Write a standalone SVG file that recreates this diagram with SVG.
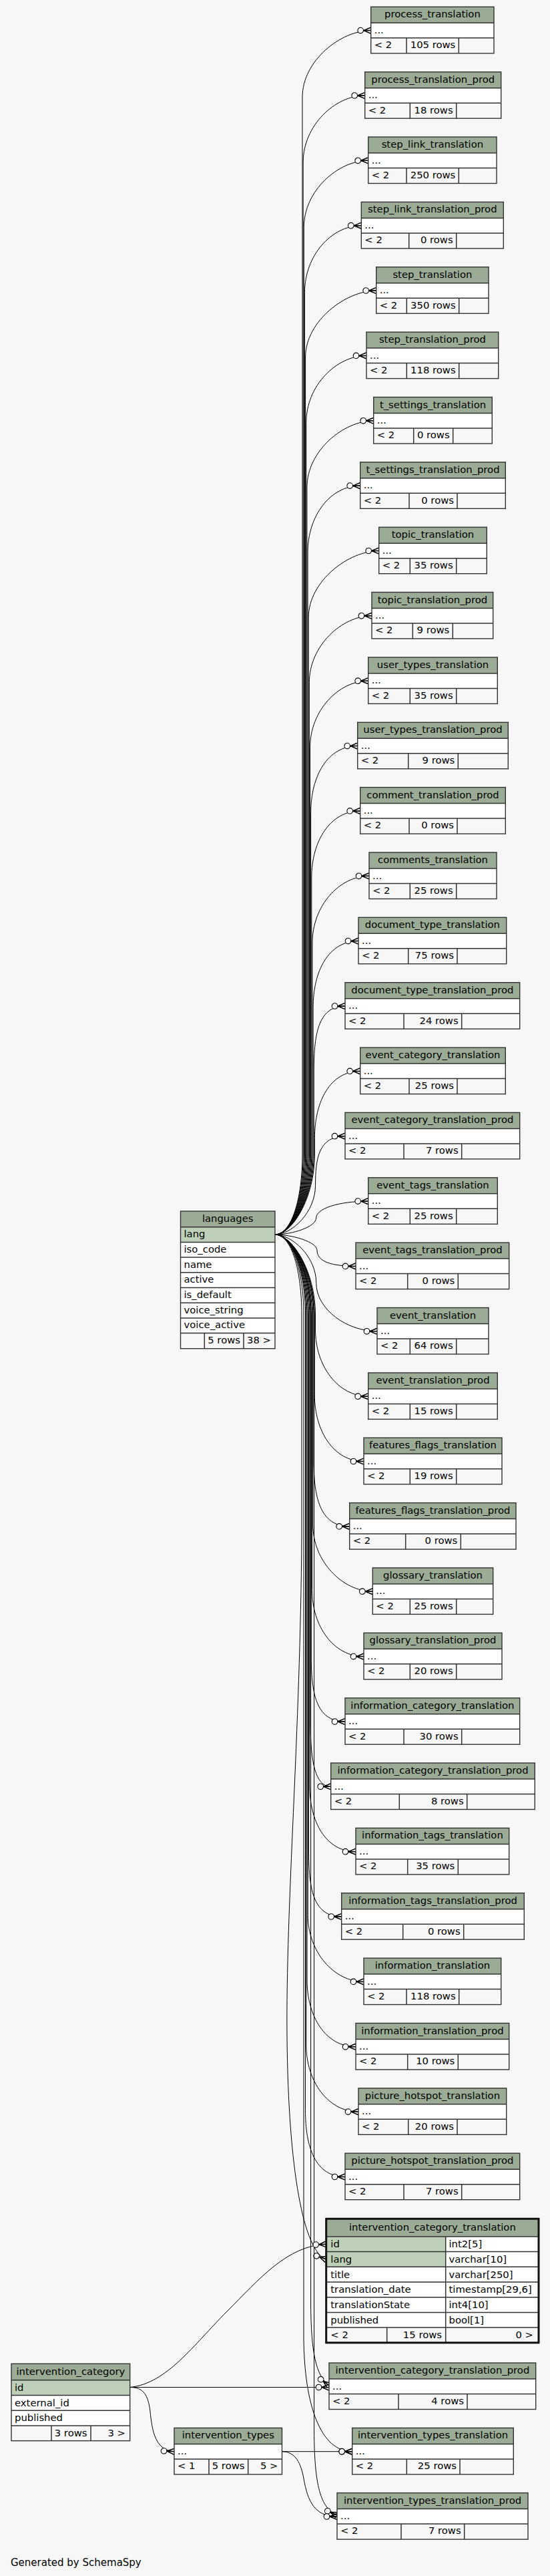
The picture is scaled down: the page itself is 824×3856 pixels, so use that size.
<svg xmlns="http://www.w3.org/2000/svg" width="824" height="3856" viewBox="0 0 824 3856">
<defs>
<style>
.hd{fill:#9bab96}
.wh{fill:#fff}
.pk{fill:#bed1b8}
.ln{stroke:#333;stroke-width:1.5;fill:none}
.ol{fill:none;stroke:#333;stroke-width:1.4}
.olb{fill:none;stroke:#111;stroke-width:3}
text{font-family:"DejaVu Sans","Liberation Sans",sans-serif;font-size:14.8px;fill:#000}
.c{text-anchor:middle}
.r{text-anchor:end}
.e{fill:none;stroke:#000;stroke-width:1;marker-end:url(#cf)}
</style>
<marker id="cf" viewBox="-22 -7 23 14" markerWidth="23" markerHeight="14" refX="0" refY="0" orient="auto" markerUnits="userSpaceOnUse">
<path d="M-11,0L0,-4.6M-11,0L0,0M-11,0L0,4.6" fill="none" stroke="#000" stroke-width="1.5"/>
<circle cx="-15.5" cy="0" r="4.3" fill="#fff" stroke="#000" stroke-width="1.1"/>
</marker>
</defs>
<rect x="0" y="0" width="824" height="3856" fill="#f7f7f7"/>

<g id="connectors">
<path class="e" d="M412,1848C437,1848 453,1794 453,1728L453,145.6C453,90.6 510.7,45.6 555.7,45.6"/>
<path class="e" d="M412,1848C437,1848 454.15,1794 454.15,1728L454.15,243C454.15,188 501.7,143 546.7,143"/>
<path class="e" d="M412,1848C437,1848 455.3,1794 455.3,1728L455.3,340.3C455.3,285.3 506.7,240.3 551.7,240.3"/>
<path class="e" d="M412,1848C437,1848 456.45,1794 456.45,1728L456.45,437.7C456.45,382.7 496.3,337.7 541.3,337.7"/>
<path class="e" d="M412,1848C437,1848 457.6,1794 457.6,1728L457.6,535C457.6,480 518.7,435 563.7,435"/>
<path class="e" d="M412,1848C437,1848 458.75,1794 458.75,1728L458.75,632.4C458.75,577.4 504,532.4 549,532.4"/>
<path class="e" d="M412,1848C437,1848 459.9,1794 459.9,1728L459.9,729.8C459.9,674.8 514.7,629.8 559.7,629.8"/>
<path class="e" d="M412,1848C437,1848 461.05,1794 461.05,1728L461.05,827.1C461.05,772.1 494.7,727.1 539.7,727.1"/>
<path class="e" d="M412,1848C437,1848 462.2,1794 462.2,1728L462.2,924.5C462.2,869.5 522.7,824.5 567.7,824.5"/>
<path class="e" d="M412,1848C437,1848 463.35,1794 463.35,1728L463.35,1021.8C463.35,966.8 512,921.8 557,921.8"/>
<path class="e" d="M412,1848C437,1848 464.5,1794 464.5,1728L464.5,1119.2C464.5,1064.2 506.7,1019.2 551.7,1019.2"/>
<path class="e" d="M412,1848C437,1848 465.65,1794 465.65,1728L465.65,1216.6C465.65,1161.6 490.7,1116.6 535.7,1116.6"/>
<path class="e" d="M412,1848C437,1848 466.8,1794 466.8,1728L466.8,1313.9C466.8,1258.9 494.7,1213.9 539.7,1213.9"/>
<path class="e" d="M412,1848C437,1848 467.95,1794 467.95,1728L467.95,1411.3C467.95,1356.3 508,1311.3 553,1311.3"/>
<path class="e" d="M412,1848C437,1848 469.1,1794 469.1,1728L469.1,1508.6C469.1,1453.6 492,1408.6 537,1408.6"/>
<path class="e" d="M412,1848C437,1848 470.25,1794 470.25,1728L470.25,1606C470.25,1551 475.3,1506 517,1506"/>
<path class="e" d="M412,1848C437,1848 471.4,1794 471.4,1728L471.4,1703.4C471.4,1648.4 494.7,1603.4 539.7,1603.4"/>
<path class="e" d="M412,1848C437,1848 472.55,1814.9 472.55,1774.4C472.55,1733.8 477.6,1700.7 517,1700.7"/>
<path class="e" d="M412,1848C437,1848 473.7,1836.8 473.7,1823C473.7,1809.3 506.7,1798.1 551.7,1798.1"/>
<path class="e" d="M412,1848C437,1848 475,1858.7 475,1871.7C475,1884.7 488,1895.4 533,1895.4"/>
<path class="e" d="M412,1848C437,1848 473.75,1880.6 473.75,1920.4C473.75,1960.2 520,1992.8 565,1992.8"/>
<path class="e" d="M412,1848C437,1848 472.5,1902 472.5,1968L472.5,1990.2C472.5,2045.2 506.7,2090.2 551.7,2090.2"/>
<path class="e" d="M412,1848C437,1848 471.25,1902 471.25,1968L471.25,2087.5C471.25,2142.5 500,2187.5 545,2187.5"/>
<path class="e" d="M412,1848C437,1848 470,1902 470,1968L470,2184.9C470,2239.9 478.7,2284.9 523.7,2284.9"/>
<path class="e" d="M412,1848C437,1848 468.75,1902 468.75,1968L468.75,2282.2C468.75,2337.2 513.3,2382.2 558.3,2382.2"/>
<path class="e" d="M412,1848C437,1848 467.5,1902 467.5,1968L467.5,2379.6C467.5,2434.6 500,2479.6 545,2479.6"/>
<path class="e" d="M412,1848C437,1848 466.25,1902 466.25,1968L466.25,2477C466.25,2532 472,2577 517,2577"/>
<path class="e" d="M412,1848C437,1848 465,1902 465,1968L465,2574.3C465,2629.3 470,2674.3 495.7,2674.3"/>
<path class="e" d="M412,1848C437,1848 463.75,1902 463.75,1968L463.75,2671.7C463.75,2726.7 488,2771.7 533,2771.7"/>
<path class="e" d="M412,1848C437,1848 462.5,1902 462.5,1968L462.5,2769C462.5,2824 467.5,2869 511.7,2869"/>
<path class="e" d="M412,1848C437,1848 461.25,1902 461.25,1968L461.25,2866.4C461.25,2921.4 500,2966.4 545,2966.4"/>
<path class="e" d="M412,1848C437,1848 460,1902 460,1968L460,2963.8C460,3018.8 488,3063.8 533,3063.8"/>
<path class="e" d="M412,1848C437,1848 458.75,1902 458.75,1968L458.75,3061.1C458.75,3116.1 492,3161.1 537,3161.1"/>
<path class="e" d="M412,1848C437,1848 457.5,1902 457.5,1968L457.5,3158.5C457.5,3213.5 472,3258.5 517,3258.5"/>
<path class="e" d="M412,1848C437,1848 452,1902 452,1968L452,2300C450,2600 428,2850 430,3050C432,3250 455,3370 488.7,3382"/>
<path class="e" d="M412,1848C437,1848 465.6,1902 465.6,1968L465.6,3450C466,3520 473,3556 493,3571"/>
<path class="e" d="M412,1848C437,1848 455,1902 455,1968L455,3500C456,3600 480,3669.7 527.7,3669.7"/>
<path class="e" d="M412,1848C437,1848 470.6,1902 470.6,1968L470.6,3640C471,3720 480,3754 505,3765"/>
<path class="e" d="M194.7,3573.5C250,3568 290,3510 340,3460C390,3410 430,3362 488.7,3359.3"/>
<path class="e" d="M194.7,3573.5L493,3573.5"/>
<path class="e" d="M194.7,3573.5C215,3573.5 222,3585 225,3610C228,3640 233,3668 261,3669.7"/>
<path class="e" d="M422.5,3669.7L527.7,3669.7"/>
<path class="e" d="M422.5,3669.7C443,3669.7 451,3688 455,3710C461,3745 472,3767 505,3767"/>
</g>

<g id="process_translation"><rect class="hd" x="555.7" y="10.3" width="184.3" height="24"/><rect class="wh" x="555.7" y="34.3" width="184.3" height="22.5"/><path class="ln" d="M555.7,34.3H740M555.7,56.8H740M609,56.8V79.8M687.3,56.8V79.8"/><rect class="ol" x="555.7" y="10.3" width="184.3" height="69.5"/><text class="c" x="647.9" y="26.3">process_translation</text><text x="560.7" y="49.8">...</text><text x="560.7" y="72.1">&lt; 2</text><text class="r" x="682.3" y="72.1">105 rows</text></g>
<g id="process_translation_prod"><rect class="hd" x="546.7" y="107.7" width="204" height="24"/><rect class="wh" x="546.7" y="131.7" width="204" height="22.5"/><path class="ln" d="M546.7,131.7H750.7M546.7,154.2H750.7M614.3,154.2V177.2M683.7,154.2V177.2"/><rect class="ol" x="546.7" y="107.7" width="204" height="69.5"/><text class="c" x="648.7" y="123.7">process_translation_prod</text><text x="551.7" y="147.2">...</text><text x="551.7" y="169.5">&lt; 2</text><text class="r" x="678.7" y="169.5">18 rows</text></g>
<g id="step_link_translation"><rect class="hd" x="551.7" y="205" width="192.3" height="24"/><rect class="wh" x="551.7" y="229" width="192.3" height="22.5"/><path class="ln" d="M551.7,229H744M551.7,251.5H744M609,251.5V274.5M687.3,251.5V274.5"/><rect class="ol" x="551.7" y="205" width="192.3" height="69.5"/><text class="c" x="647.9" y="221">step_link_translation</text><text x="556.7" y="244.5">...</text><text x="556.7" y="266.8">&lt; 2</text><text class="r" x="682.3" y="266.8">250 rows</text></g>
<g id="step_link_translation_prod"><rect class="hd" x="541.3" y="302.4" width="213" height="24"/><rect class="wh" x="541.3" y="326.4" width="213" height="22.5"/><path class="ln" d="M541.3,326.4H754.3M541.3,348.9H754.3M612.7,348.9V371.9M683.7,348.9V371.9"/><rect class="ol" x="541.3" y="302.4" width="213" height="69.5"/><text class="c" x="647.8" y="318.4">step_link_translation_prod</text><text x="546.3" y="341.9">...</text><text x="546.3" y="364.2">&lt; 2</text><text class="r" x="678.7" y="364.2">0 rows</text></g>
<g id="step_translation"><rect class="hd" x="563.7" y="399.7" width="168.3" height="24"/><rect class="wh" x="563.7" y="423.7" width="168.3" height="22.5"/><path class="ln" d="M563.7,423.7H732M563.7,446.2H732M609.3,446.2V469.2M687.7,446.2V469.2"/><rect class="ol" x="563.7" y="399.7" width="168.3" height="69.5"/><text class="c" x="647.9" y="415.7">step_translation</text><text x="568.7" y="439.2">...</text><text x="568.7" y="461.5">&lt; 2</text><text class="r" x="682.7" y="461.5">350 rows</text></g>
<g id="step_translation_prod"><rect class="hd" x="549" y="497.1" width="197.7" height="24"/><rect class="wh" x="549" y="521.1" width="197.7" height="22.5"/><path class="ln" d="M549,521.1H746.7M549,543.6H746.7M609.3,543.6V566.6M687.7,543.6V566.6"/><rect class="ol" x="549" y="497.1" width="197.7" height="69.5"/><text class="c" x="647.9" y="513.1">step_translation_prod</text><text x="554" y="536.6">...</text><text x="554" y="558.9">&lt; 2</text><text class="r" x="682.7" y="558.9">118 rows</text></g>
<g id="t_settings_translation"><rect class="hd" x="559.7" y="594.5" width="177.6" height="24"/><rect class="wh" x="559.7" y="618.5" width="177.6" height="22.5"/><path class="ln" d="M559.7,618.5H737.3M559.7,641H737.3M619.7,641V664M678.7,641V664"/><rect class="ol" x="559.7" y="594.5" width="177.6" height="69.5"/><text class="c" x="648.5" y="610.5">t_settings_translation</text><text x="564.7" y="634">...</text><text x="564.7" y="656.3">&lt; 2</text><text class="r" x="673.7" y="656.3">0 rows</text></g>
<g id="t_settings_translation_prod"><rect class="hd" x="539.7" y="691.8" width="217.6" height="24"/><rect class="wh" x="539.7" y="715.8" width="217.6" height="22.5"/><path class="ln" d="M539.7,715.8H757.3M539.7,738.3H757.3M613,738.3V761.3M685,738.3V761.3"/><rect class="ol" x="539.7" y="691.8" width="217.6" height="69.5"/><text class="c" x="648.5" y="707.8">t_settings_translation_prod</text><text x="544.7" y="731.3">...</text><text x="544.7" y="753.6">&lt; 2</text><text class="r" x="680" y="753.6">0 rows</text></g>
<g id="topic_translation"><rect class="hd" x="567.7" y="789.2" width="161.6" height="24"/><rect class="wh" x="567.7" y="813.2" width="161.6" height="22.5"/><path class="ln" d="M567.7,813.2H729.3M567.7,835.7H729.3M614.3,835.7V858.7M683.7,835.7V858.7"/><rect class="ol" x="567.7" y="789.2" width="161.6" height="69.5"/><text class="c" x="648.5" y="805.2">topic_translation</text><text x="572.7" y="828.7">...</text><text x="572.7" y="851">&lt; 2</text><text class="r" x="678.7" y="851">35 rows</text></g>
<g id="topic_translation_prod"><rect class="hd" x="557" y="886.5" width="181.7" height="24"/><rect class="wh" x="557" y="910.5" width="181.7" height="22.5"/><path class="ln" d="M557,910.5H738.7M557,933H738.7M618.3,933V956M678.3,933V956"/><rect class="ol" x="557" y="886.5" width="181.7" height="69.5"/><text class="c" x="647.9" y="902.5">topic_translation_prod</text><text x="562" y="926">...</text><text x="562" y="948.3">&lt; 2</text><text class="r" x="673.3" y="948.3">9 rows</text></g>
<g id="user_types_translation"><rect class="hd" x="551.7" y="983.9" width="193.6" height="24"/><rect class="wh" x="551.7" y="1007.9" width="193.6" height="22.5"/><path class="ln" d="M551.7,1007.9H745.3M551.7,1030.4H745.3M614.3,1030.4V1053.4M683.7,1030.4V1053.4"/><rect class="ol" x="551.7" y="983.9" width="193.6" height="69.5"/><text class="c" x="648.5" y="999.9">user_types_translation</text><text x="556.7" y="1023.4">...</text><text x="556.7" y="1045.7">&lt; 2</text><text class="r" x="678.7" y="1045.7">35 rows</text></g>
<g id="user_types_translation_prod"><rect class="hd" x="535.7" y="1081.3" width="225.6" height="24"/><rect class="wh" x="535.7" y="1105.3" width="225.6" height="22.5"/><path class="ln" d="M535.7,1105.3H761.3M535.7,1127.8H761.3M611.7,1127.8V1150.8M686.3,1127.8V1150.8"/><rect class="ol" x="535.7" y="1081.3" width="225.6" height="69.5"/><text class="c" x="648.5" y="1097.3">user_types_translation_prod</text><text x="540.7" y="1120.8">...</text><text x="540.7" y="1143.1">&lt; 2</text><text class="r" x="681.3" y="1143.1">9 rows</text></g>
<g id="comment_translation_prod"><rect class="hd" x="539.7" y="1178.6" width="217.6" height="24"/><rect class="wh" x="539.7" y="1202.6" width="217.6" height="22.5"/><path class="ln" d="M539.7,1202.6H757.3M539.7,1225.1H757.3M613,1225.1V1248.1M685,1225.1V1248.1"/><rect class="ol" x="539.7" y="1178.6" width="217.6" height="69.5"/><text class="c" x="648.5" y="1194.6">comment_translation_prod</text><text x="544.7" y="1218.1">...</text><text x="544.7" y="1240.4">&lt; 2</text><text class="r" x="680" y="1240.4">0 rows</text></g>
<g id="comments_translation"><rect class="hd" x="553" y="1276" width="191" height="24"/><rect class="wh" x="553" y="1300" width="191" height="22.5"/><path class="ln" d="M553,1300H744M553,1322.5H744M614.3,1322.5V1345.5M683.7,1322.5V1345.5"/><rect class="ol" x="553" y="1276" width="191" height="69.5"/><text class="c" x="648.5" y="1292">comments_translation</text><text x="558" y="1315.5">...</text><text x="558" y="1337.8">&lt; 2</text><text class="r" x="678.7" y="1337.8">25 rows</text></g>
<g id="document_type_translation"><rect class="hd" x="537" y="1373.3" width="221.7" height="24"/><rect class="wh" x="537" y="1397.3" width="221.7" height="22.5"/><path class="ln" d="M537,1397.3H758.7M537,1419.8H758.7M611.7,1419.8V1442.8M685,1419.8V1442.8"/><rect class="ol" x="537" y="1373.3" width="221.7" height="69.5"/><text class="c" x="647.9" y="1389.3">document_type_translation</text><text x="542" y="1412.8">...</text><text x="542" y="1435.1">&lt; 2</text><text class="r" x="680" y="1435.1">75 rows</text></g>
<g id="document_type_translation_prod"><rect class="hd" x="517" y="1470.7" width="261.7" height="24"/><rect class="wh" x="517" y="1494.7" width="261.7" height="22.5"/><path class="ln" d="M517,1494.7H778.7M517,1517.2H778.7M605,1517.2V1540.2M691.7,1517.2V1540.2"/><rect class="ol" x="517" y="1470.7" width="261.7" height="69.5"/><text class="c" x="647.9" y="1486.7">document_type_translation_prod</text><text x="522" y="1510.2">...</text><text x="522" y="1532.5">&lt; 2</text><text class="r" x="686.7" y="1532.5">24 rows</text></g>
<g id="event_category_translation"><rect class="hd" x="539.7" y="1568.1" width="217.6" height="24"/><rect class="wh" x="539.7" y="1592.1" width="217.6" height="22.5"/><path class="ln" d="M539.7,1592.1H757.3M539.7,1614.6H757.3M613,1614.6V1637.6M685,1614.6V1637.6"/><rect class="ol" x="539.7" y="1568.1" width="217.6" height="69.5"/><text class="c" x="648.5" y="1584.1">event_category_translation</text><text x="544.7" y="1607.6">...</text><text x="544.7" y="1629.9">&lt; 2</text><text class="r" x="680" y="1629.9">25 rows</text></g>
<g id="event_category_translation_prod"><rect class="hd" x="517" y="1665.4" width="261.7" height="24"/><rect class="wh" x="517" y="1689.4" width="261.7" height="22.5"/><path class="ln" d="M517,1689.4H778.7M517,1711.9H778.7M605,1711.9V1734.9M691.7,1711.9V1734.9"/><rect class="ol" x="517" y="1665.4" width="261.7" height="69.5"/><text class="c" x="647.9" y="1681.4">event_category_translation_prod</text><text x="522" y="1704.9">...</text><text x="522" y="1727.2">&lt; 2</text><text class="r" x="686.7" y="1727.2">7 rows</text></g>
<g id="event_tags_translation"><rect class="hd" x="551.7" y="1762.8" width="193.6" height="24"/><rect class="wh" x="551.7" y="1786.8" width="193.6" height="22.5"/><path class="ln" d="M551.7,1786.8H745.3M551.7,1809.3H745.3M614.3,1809.3V1832.3M683.7,1809.3V1832.3"/><rect class="ol" x="551.7" y="1762.8" width="193.6" height="69.5"/><text class="c" x="648.5" y="1778.8">event_tags_translation</text><text x="556.7" y="1802.3">...</text><text x="556.7" y="1824.6">&lt; 2</text><text class="r" x="678.7" y="1824.6">25 rows</text></g>
<g id="event_tags_translation_prod"><rect class="hd" x="533" y="1860.1" width="229.7" height="24"/><rect class="wh" x="533" y="1884.1" width="229.7" height="22.5"/><path class="ln" d="M533,1884.1H762.7M533,1906.6H762.7M610.7,1906.6V1929.6M686.3,1906.6V1929.6"/><rect class="ol" x="533" y="1860.1" width="229.7" height="69.5"/><text class="c" x="647.9" y="1876.1">event_tags_translation_prod</text><text x="538" y="1899.6">...</text><text x="538" y="1921.9">&lt; 2</text><text class="r" x="681.3" y="1921.9">0 rows</text></g>
<g id="event_translation"><rect class="hd" x="565" y="1957.5" width="167" height="24"/><rect class="wh" x="565" y="1981.5" width="167" height="22.5"/><path class="ln" d="M565,1981.5H732M565,2004H732M614.3,2004V2027M683.7,2004V2027"/><rect class="ol" x="565" y="1957.5" width="167" height="69.5"/><text class="c" x="648.5" y="1973.5">event_translation</text><text x="570" y="1997">...</text><text x="570" y="2019.3">&lt; 2</text><text class="r" x="678.7" y="2019.3">64 rows</text></g>
<g id="event_translation_prod"><rect class="hd" x="551.7" y="2054.9" width="193.6" height="24"/><rect class="wh" x="551.7" y="2078.9" width="193.6" height="22.5"/><path class="ln" d="M551.7,2078.9H745.3M551.7,2101.4H745.3M614.3,2101.4V2124.4M683.7,2101.4V2124.4"/><rect class="ol" x="551.7" y="2054.9" width="193.6" height="69.5"/><text class="c" x="648.5" y="2070.9">event_translation_prod</text><text x="556.7" y="2094.4">...</text><text x="556.7" y="2116.7">&lt; 2</text><text class="r" x="678.7" y="2116.7">15 rows</text></g>
<g id="features_flags_translation"><rect class="hd" x="545" y="2152.2" width="207" height="24"/><rect class="wh" x="545" y="2176.2" width="207" height="22.5"/><path class="ln" d="M545,2176.2H752M545,2198.7H752M614.3,2198.7V2221.7M683.7,2198.7V2221.7"/><rect class="ol" x="545" y="2152.2" width="207" height="69.5"/><text class="c" x="648.5" y="2168.2">features_flags_translation</text><text x="550" y="2191.7">...</text><text x="550" y="2214">&lt; 2</text><text class="r" x="678.7" y="2214">19 rows</text></g>
<g id="features_flags_translation_prod"><rect class="hd" x="523.7" y="2249.6" width="249.3" height="24"/><rect class="wh" x="523.7" y="2273.6" width="249.3" height="22.5"/><path class="ln" d="M523.7,2273.6H773M523.7,2296.1H773M607.7,2296.1V2319.1M690.3,2296.1V2319.1"/><rect class="ol" x="523.7" y="2249.6" width="249.3" height="69.5"/><text class="c" x="648.4" y="2265.6">features_flags_translation_prod</text><text x="528.7" y="2289.1">...</text><text x="528.7" y="2311.4">&lt; 2</text><text class="r" x="685.3" y="2311.4">0 rows</text></g>
<g id="glossary_translation"><rect class="hd" x="558.3" y="2346.9" width="180.4" height="24"/><rect class="wh" x="558.3" y="2370.9" width="180.4" height="22.5"/><path class="ln" d="M558.3,2370.9H738.7M558.3,2393.4H738.7M614.3,2393.4V2416.4M683.7,2393.4V2416.4"/><rect class="ol" x="558.3" y="2346.9" width="180.4" height="69.5"/><text class="c" x="648.5" y="2362.9">glossary_translation</text><text x="563.3" y="2386.4">...</text><text x="563.3" y="2408.7">&lt; 2</text><text class="r" x="678.7" y="2408.7">25 rows</text></g>
<g id="glossary_translation_prod"><rect class="hd" x="545" y="2444.3" width="207" height="24"/><rect class="wh" x="545" y="2468.3" width="207" height="22.5"/><path class="ln" d="M545,2468.3H752M545,2490.8H752M614.3,2490.8V2513.8M683.7,2490.8V2513.8"/><rect class="ol" x="545" y="2444.3" width="207" height="69.5"/><text class="c" x="648.5" y="2460.3">glossary_translation_prod</text><text x="550" y="2483.8">...</text><text x="550" y="2506.1">&lt; 2</text><text class="r" x="678.7" y="2506.1">20 rows</text></g>
<g id="information_category_translation"><rect class="hd" x="517" y="2541.7" width="261.7" height="24"/><rect class="wh" x="517" y="2565.7" width="261.7" height="22.5"/><path class="ln" d="M517,2565.7H778.7M517,2588.2H778.7M605,2588.2V2611.2M691.7,2588.2V2611.2"/><rect class="ol" x="517" y="2541.7" width="261.7" height="69.5"/><text class="c" x="647.9" y="2557.7">information_category_translation</text><text x="522" y="2581.2">...</text><text x="522" y="2603.5">&lt; 2</text><text class="r" x="686.7" y="2603.5">30 rows</text></g>
<g id="information_category_translation_prod"><rect class="hd" x="495.7" y="2639" width="305.6" height="24"/><rect class="wh" x="495.7" y="2663" width="305.6" height="22.5"/><path class="ln" d="M495.7,2663H801.3M495.7,2685.5H801.3M598.3,2685.5V2708.5M699.7,2685.5V2708.5"/><rect class="ol" x="495.7" y="2639" width="305.6" height="69.5"/><text class="c" x="648.5" y="2655">information_category_translation_prod</text><text x="500.7" y="2678.5">...</text><text x="500.7" y="2700.8">&lt; 2</text><text class="r" x="694.7" y="2700.8">8 rows</text></g>
<g id="information_tags_translation"><rect class="hd" x="533" y="2736.4" width="229.7" height="24"/><rect class="wh" x="533" y="2760.4" width="229.7" height="22.5"/><path class="ln" d="M533,2760.4H762.7M533,2782.9H762.7M610.7,2782.9V2805.9M686.3,2782.9V2805.9"/><rect class="ol" x="533" y="2736.4" width="229.7" height="69.5"/><text class="c" x="647.9" y="2752.4">information_tags_translation</text><text x="538" y="2775.9">...</text><text x="538" y="2798.2">&lt; 2</text><text class="r" x="681.3" y="2798.2">35 rows</text></g>
<g id="information_tags_translation_prod"><rect class="hd" x="511.7" y="2833.7" width="273.6" height="24"/><rect class="wh" x="511.7" y="2857.7" width="273.6" height="22.5"/><path class="ln" d="M511.7,2857.7H785.3M511.7,2880.2H785.3M603.7,2880.2V2903.2M694.7,2880.2V2903.2"/><rect class="ol" x="511.7" y="2833.7" width="273.6" height="69.5"/><text class="c" x="648.5" y="2849.7">information_tags_translation_prod</text><text x="516.7" y="2873.2">...</text><text x="516.7" y="2895.5">&lt; 2</text><text class="r" x="689.7" y="2895.5">0 rows</text></g>
<g id="information_translation"><rect class="hd" x="545" y="2931.1" width="205.7" height="24"/><rect class="wh" x="545" y="2955.1" width="205.7" height="22.5"/><path class="ln" d="M545,2955.1H750.7M545,2977.6H750.7M609,2977.6V3000.6M687.7,2977.6V3000.6"/><rect class="ol" x="545" y="2931.1" width="205.7" height="69.5"/><text class="c" x="647.9" y="2947.1">information_translation</text><text x="550" y="2970.6">...</text><text x="550" y="2992.9">&lt; 2</text><text class="r" x="682.7" y="2992.9">118 rows</text></g>
<g id="information_translation_prod"><rect class="hd" x="533" y="3028.5" width="229.7" height="24"/><rect class="wh" x="533" y="3052.5" width="229.7" height="22.5"/><path class="ln" d="M533,3052.5H762.7M533,3075H762.7M610.7,3075V3098M686.3,3075V3098"/><rect class="ol" x="533" y="3028.5" width="229.7" height="69.5"/><text class="c" x="647.9" y="3044.5">information_translation_prod</text><text x="538" y="3068">...</text><text x="538" y="3090.3">&lt; 2</text><text class="r" x="681.3" y="3090.3">10 rows</text></g>
<g id="picture_hotspot_translation"><rect class="hd" x="537" y="3125.8" width="221.7" height="24"/><rect class="wh" x="537" y="3149.8" width="221.7" height="22.5"/><path class="ln" d="M537,3149.8H758.7M537,3172.3H758.7M611.7,3172.3V3195.3M685,3172.3V3195.3"/><rect class="ol" x="537" y="3125.8" width="221.7" height="69.5"/><text class="c" x="647.9" y="3141.8">picture_hotspot_translation</text><text x="542" y="3165.3">...</text><text x="542" y="3187.6">&lt; 2</text><text class="r" x="680" y="3187.6">20 rows</text></g>
<g id="picture_hotspot_translation_prod"><rect class="hd" x="517" y="3223.2" width="261.7" height="24"/><rect class="wh" x="517" y="3247.2" width="261.7" height="22.5"/><path class="ln" d="M517,3247.2H778.7M517,3269.7H778.7M605,3269.7V3292.7M691.7,3269.7V3292.7"/><rect class="ol" x="517" y="3223.2" width="261.7" height="69.5"/><text class="c" x="647.9" y="3239.2">picture_hotspot_translation_prod</text><text x="522" y="3262.7">...</text><text x="522" y="3285">&lt; 2</text><text class="r" x="686.7" y="3285">7 rows</text></g>

<g id="languages">
<rect class="hd" x="270.5" y="1813" width="141.5" height="23.7"/>
<rect class="pk" x="270.5" y="1836.7" width="141.5" height="22.7"/>
<rect class="wh" x="270.5" y="1859.4" width="141.5" height="136.2"/>
<path class="ln" d="M270.5,1836.7H412M270.5,1859.4H412M270.5,1882.1H412M270.5,1904.8H412M270.5,1927.5H412M270.5,1950.2H412M270.5,1972.9H412M270.5,1995.6H412M306.3,1995.6V2018.7M365,1995.6V2018.7"/>
<rect class="ol" x="270.5" y="1813" width="141.5" height="205.7"/>
<text class="c" x="341.2" y="1829">languages</text>
<text x="275.5" y="1852.2">lang</text>
<text x="275.5" y="1874.9">iso_code</text>
<text x="275.5" y="1897.6">name</text>
<text x="275.5" y="1920.3">active</text>
<text x="275.5" y="1943">is_default</text>
<text x="275.5" y="1965.7">voice_string</text>
<text x="275.5" y="1988.4">voice_active</text>
<text class="r" x="360" y="2011.3">5 rows</text>
<text class="r" x="406" y="2011.3">38 &gt;</text>
</g>

<g id="intervention_category_translation">
<rect class="hd" x="488.7" y="3321.3" width="318.3" height="26.6"/>
<rect class="pk" x="488.7" y="3347.9" width="179" height="45.4"/>
<rect class="wh" x="667.7" y="3347.9" width="139.3" height="45.4"/>
<rect class="wh" x="488.7" y="3393.3" width="318.3" height="90.8"/>
<path class="ln" d="M488.7,3347.9H807M488.7,3370.6H807M488.7,3393.3H807M488.7,3416H807M488.7,3438.7H807M488.7,3461.4H807M488.7,3484.1H807M667.7,3347.9V3506.8M579.7,3484.1V3506.8"/>
<rect class="olb" x="488.7" y="3321.3" width="318.3" height="185.5"/>
<text class="c" x="647.9" y="3338.6">intervention_category_translation</text>
<text x="495.3" y="3364.2">id</text><text x="672.5" y="3364.2">int2[5]</text>
<text x="495.3" y="3386.9">lang</text><text x="672.5" y="3386.9">varchar[10]</text>
<text x="495.3" y="3409.6">title</text><text x="672.5" y="3409.6">varchar[250]</text>
<text x="495.3" y="3432.3">translation_date</text><text x="672.5" y="3432.3">timestamp[29,6]</text>
<text x="495.3" y="3455">translationState</text><text x="672.5" y="3455">int4[10]</text>
<text x="495.3" y="3477.7">published</text><text x="672.5" y="3477.7">bool[1]</text>
<text x="495.3" y="3500.2">&lt; 2</text><text class="r" x="662" y="3500.2">15 rows</text><text class="r" x="799" y="3500.2">0 &gt;</text>
</g>

<g id="intervention_category_translation_prod"><rect class="hd" x="493" y="3537" width="309.7" height="24"/><rect class="wh" x="493" y="3561" width="309.7" height="22.5"/><path class="ln" d="M493,3561H802.7M493,3583.5H802.7M597,3583.5V3606.5M700,3583.5V3606.5"/><rect class="ol" x="493" y="3537" width="309.7" height="69.5"/><text class="c" x="647.9" y="3553">intervention_category_translation_prod</text><text x="498" y="3576.5">...</text><text x="498" y="3598.8">&lt; 2</text><text class="r" x="695" y="3598.8">4 rows</text></g>

<g id="intervention_category">
<rect class="hd" x="17" y="3538.3" width="177.7" height="24.5"/>
<rect class="pk" x="17" y="3562.8" width="177.7" height="22.7"/>
<rect class="wh" x="17" y="3585.5" width="177.7" height="45.4"/>
<path class="ln" d="M17,3562.8H194.7M17,3585.5H194.7M17,3608.2H194.7M17,3630.9H194.7M77,3630.9V3653.6M136,3630.9V3653.6"/>
<rect class="ol" x="17" y="3538.3" width="177.7" height="115.3"/>
<text class="c" x="105.9" y="3554.6">intervention_category</text>
<text x="22" y="3578.8">id</text>
<text x="22" y="3601.5">external_id</text>
<text x="22" y="3624.2">published</text>
<text class="r" x="130.5" y="3647">3 rows</text>
<text class="r" x="188" y="3647">3 &gt;</text>
</g>

<g id="intervention_types"><rect class="hd" x="261" y="3634.4" width="161.5" height="24"/><rect class="wh" x="261" y="3658.4" width="161.5" height="22.5"/><path class="ln" d="M261,3658.4H422.5M261,3680.9H422.5M313,3680.9V3703.9M371.7,3680.9V3703.9"/><rect class="ol" x="261" y="3634.4" width="161.5" height="69.5"/><text class="c" x="341.8" y="3650.4">intervention_types</text><text x="266" y="3673.9">...</text><text x="266" y="3696.2">&lt; 1</text><text class="r" x="366.5" y="3696.2">5 rows</text><text class="r" x="416.5" y="3696.2">5 &gt;</text></g>

<g id="intervention_types_translation"><rect class="hd" x="527.7" y="3634.4" width="241.6" height="24"/><rect class="wh" x="527.7" y="3658.4" width="241.6" height="22.5"/><path class="ln" d="M527.7,3658.4H769.3M527.7,3680.9H769.3M609.3,3680.9V3703.9M689,3680.9V3703.9"/><rect class="ol" x="527.7" y="3634.4" width="241.6" height="69.5"/><text class="c" x="648.5" y="3650.4">intervention_types_translation</text><text x="532.7" y="3673.9">...</text><text x="532.7" y="3696.2">&lt; 2</text><text class="r" x="684" y="3696.2">25 rows</text></g>

<g id="intervention_types_translation_prod"><rect class="hd" x="505" y="3731.6" width="286" height="24"/><rect class="wh" x="505" y="3755.6" width="286" height="22.5"/><path class="ln" d="M505,3755.6H791M505,3778.1H791M601,3778.1V3801.1M695.7,3778.1V3801.1"/><rect class="ol" x="505" y="3731.6" width="286" height="69.5"/><text class="c" x="648" y="3747.6">intervention_types_translation_prod</text><text x="510" y="3771.1">...</text><text x="510" y="3793.4">&lt; 2</text><text class="r" x="690.7" y="3793.4">7 rows</text></g>

<text x="16" y="3841" style="font-size:15px">Generated by SchemaSpy</text>
</svg>
